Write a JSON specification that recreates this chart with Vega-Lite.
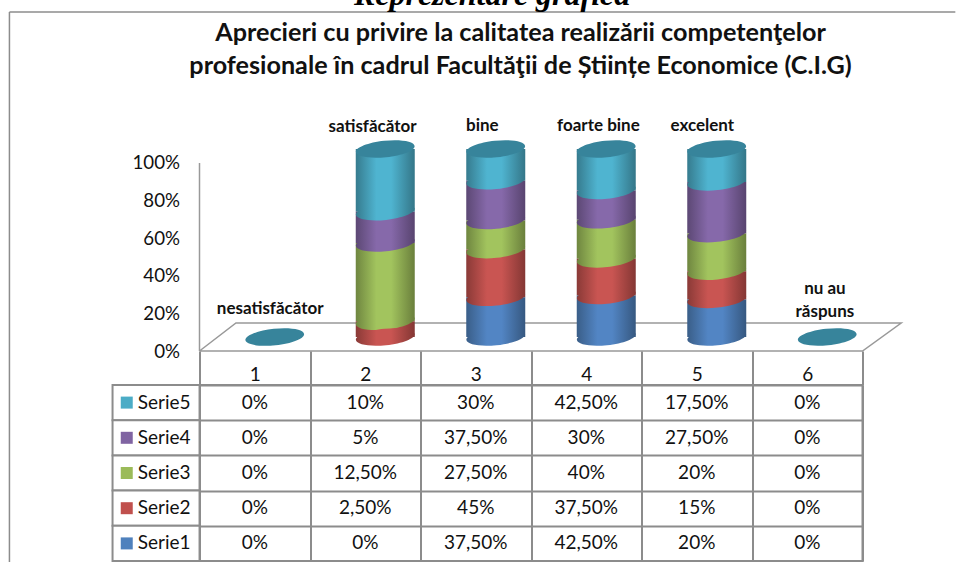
{
"$schema":"https://vega.github.io/schema/vega-lite/v6.json",
"padding":{"left":8.5,"top":0,"right":0,"bottom":0},
"background":"white",
"config":{"view":{"stroke":null},"font":"Lato"},
"datasets":{"d":[
{"cat":1,"serie":"Serie5","v":0,"label":"0%"},{"cat":2,"serie":"Serie5","v":10,"label":"10%"},{"cat":3,"serie":"Serie5","v":30,"label":"30%"},{"cat":4,"serie":"Serie5","v":42.5,"label":"42,50%"},{"cat":5,"serie":"Serie5","v":17.5,"label":"17,50%"},{"cat":6,"serie":"Serie5","v":0,"label":"0%"},
{"cat":1,"serie":"Serie4","v":0,"label":"0%"},{"cat":2,"serie":"Serie4","v":5,"label":"5%"},{"cat":3,"serie":"Serie4","v":37.5,"label":"37,50%"},{"cat":4,"serie":"Serie4","v":30,"label":"30%"},{"cat":5,"serie":"Serie4","v":27.5,"label":"27,50%"},{"cat":6,"serie":"Serie4","v":0,"label":"0%"},
{"cat":1,"serie":"Serie3","v":0,"label":"0%"},{"cat":2,"serie":"Serie3","v":12.5,"label":"12,50%"},{"cat":3,"serie":"Serie3","v":27.5,"label":"27,50%"},{"cat":4,"serie":"Serie3","v":40,"label":"40%"},{"cat":5,"serie":"Serie3","v":20,"label":"20%"},{"cat":6,"serie":"Serie3","v":0,"label":"0%"},
{"cat":1,"serie":"Serie2","v":0,"label":"0%"},{"cat":2,"serie":"Serie2","v":2.5,"label":"2,50%"},{"cat":3,"serie":"Serie2","v":45,"label":"45%"},{"cat":4,"serie":"Serie2","v":37.5,"label":"37,50%"},{"cat":5,"serie":"Serie2","v":15,"label":"15%"},{"cat":6,"serie":"Serie2","v":0,"label":"0%"},
{"cat":1,"serie":"Serie1","v":0,"label":"0%"},{"cat":2,"serie":"Serie1","v":0,"label":"0%"},{"cat":3,"serie":"Serie1","v":37.5,"label":"37,50%"},{"cat":4,"serie":"Serie1","v":42.5,"label":"42,50%"},{"cat":5,"serie":"Serie1","v":20,"label":"20%"},{"cat":6,"serie":"Serie1","v":0,"label":"0%"}
]},
"bounds":"flush",
"align":"all",
"spacing":34,
"vconcat":[
{"width":663,"height":351,
"layer":[
{"data":{"values":[{"a":-1.22,"b":1.803}]},"mark":{"type":"rule","color":"#8c8c8c","strokeWidth":1.5},"encoding":{"x":{"field":"a","type":"quantitative","scale":{"domain":[0.5,6.5],"nice":false,"zero":false,"padding":0},"axis":null},"y":{"field":"b","type":"quantitative","scale":{"domain":[0,1.867],"nice":false,"zero":false},"axis":{"values":[0,0.2,0.4,0.6,0.8,1],"format":".0%","domain":false,"ticks":false,"grid":false,"title":null,"labelFont":"Lato","labelFontSize":18.7,"labelColor":"#111","labelPadding":20}},"y2":{"datum":-1.122}}},
{"data":{"values":[{"a":-1.22,"b":1.803,"c":7.34}]},"mark":{"type":"rule","color":"#8c8c8c","strokeWidth":1.5},"encoding":{"x":{"field":"a","type":"quantitative"},"x2":{"field":"c"},"y":{"field":"b","type":"quantitative"}}},
{"data":{"values":[{"a":0.5,"y0":0,"y1":1}]},"mark":{"type":"rule","color":"#999999","strokeWidth":1.5},"encoding":{"x":{"field":"a","type":"quantitative"},"y":{"field":"y0","type":"quantitative"},"y2":{"field":"y1"}}},
{"data":{"values":[{"o":1,"a":0.5,"b":0},{"o":2,"a":0.83,"b":0.149},{"o":3,"a":6.85,"b":0.149},{"o":4,"a":6.5,"b":0},{"o":5,"a":0.5,"b":0}]},"mark":{"type":"line","color":"#999999","strokeWidth":1.5},"encoding":{"x":{"field":"a","type":"quantitative"},"y":{"field":"b","type":"quantitative"},"order":{"field":"o"}}},
{"data":{"name":"d"},"transform":[{"filter":"datum.v>0"},{"stack":"v","groupby":["cat"],"sort":[{"field":"serie","order":"ascending"}],"offset":"normalize","as":["y0","y1"]}],
"layer":[
{"mark":{"type":"bar","width":59,"xOffset":20,"yOffset":-14,"y2Offset":-14},"encoding":{"x":{"field":"cat","type":"quantitative"},"y":{"field":"y0","type":"quantitative"},"y2":{"field":"y1"},"color":{"condition":[
{"test":"datum.serie==='Serie1'","value":{"gradient":"linear","x1":0,"x2":1,"y1":0,"y2":0,"stops":[{"offset":0,"color":"#3a5e88"},{"offset":0.35,"color":"#5285c4"},{"offset":0.6,"color":"#5285c4"},{"offset":1,"color":"#365880"}]}},
{"test":"datum.serie==='Serie2'","value":{"gradient":"linear","x1":0,"x2":1,"y1":0,"y2":0,"stops":[{"offset":0,"color":"#8a3a37"},{"offset":0.35,"color":"#c95552"},{"offset":0.6,"color":"#c95552"},{"offset":1,"color":"#843734"}]}},
{"test":"datum.serie==='Serie3'","value":{"gradient":"linear","x1":0,"x2":1,"y1":0,"y2":0,"stops":[{"offset":0,"color":"#6f8640"},{"offset":0.35,"color":"#a2c45e"},{"offset":0.6,"color":"#a2c45e"},{"offset":1,"color":"#6a7f3c"}]}},
{"test":"datum.serie==='Serie4'","value":{"gradient":"linear","x1":0,"x2":1,"y1":0,"y2":0,"stops":[{"offset":0,"color":"#5c4874"},{"offset":0.35,"color":"#8669aa"},{"offset":0.6,"color":"#8669aa"},{"offset":1,"color":"#58446f"}]}}
],"value":{"gradient":"linear","x1":0,"x2":1,"y1":0,"y2":0,"stops":[{"offset":0,"color":"#367b8e"},{"offset":0.35,"color":"#4fb4d0"},{"offset":0.6,"color":"#4fb4d0"},{"offset":1,"color":"#347688"}]}}}},
{"mark":{"type":"point","filled":true,"opacity":1,"size":3481,"xOffset":20,"yOffset":-14,"shape":"M-0.995,0.105A1,0.28,-6,1,1,0.995,-0.105A1,0.28,-6,1,1,-0.995,0.105Z"},"encoding":{"x":{"field":"cat","type":"quantitative"},"y":{"field":"y0","type":"quantitative"},"color":{"condition":[
{"test":"datum.serie==='Serie1'","value":{"gradient":"linear","x1":0,"x2":1,"y1":0,"y2":0,"stops":[{"offset":0,"color":"#3a5e88"},{"offset":0.35,"color":"#5285c4"},{"offset":0.6,"color":"#5285c4"},{"offset":1,"color":"#365880"}]}},
{"test":"datum.serie==='Serie2'","value":{"gradient":"linear","x1":0,"x2":1,"y1":0,"y2":0,"stops":[{"offset":0,"color":"#8a3a37"},{"offset":0.35,"color":"#c95552"},{"offset":0.6,"color":"#c95552"},{"offset":1,"color":"#843734"}]}},
{"test":"datum.serie==='Serie3'","value":{"gradient":"linear","x1":0,"x2":1,"y1":0,"y2":0,"stops":[{"offset":0,"color":"#6f8640"},{"offset":0.35,"color":"#a2c45e"},{"offset":0.6,"color":"#a2c45e"},{"offset":1,"color":"#6a7f3c"}]}},
{"test":"datum.serie==='Serie4'","value":{"gradient":"linear","x1":0,"x2":1,"y1":0,"y2":0,"stops":[{"offset":0,"color":"#5c4874"},{"offset":0.35,"color":"#8669aa"},{"offset":0.6,"color":"#8669aa"},{"offset":1,"color":"#58446f"}]}}
],"value":{"gradient":"linear","x1":0,"x2":1,"y1":0,"y2":0,"stops":[{"offset":0,"color":"#367b8e"},{"offset":0.35,"color":"#4fb4d0"},{"offset":0.6,"color":"#4fb4d0"},{"offset":1,"color":"#347688"}]}}}}
]},
{"data":{"values":[{"cat":1,"top":0},{"cat":2,"top":1},{"cat":3,"top":1},{"cat":4,"top":1},{"cat":5,"top":1},{"cat":6,"top":0}]},"mark":{"type":"point","filled":true,"opacity":1,"size":3481,"color":"#37849b","xOffset":20,"yOffset":-14,"shape":"M-0.995,0.105A1,0.28,-6,1,1,0.995,-0.105A1,0.28,-6,1,1,-0.995,0.105Z"},"encoding":{"x":{"field":"cat","type":"quantitative"},"y":{"field":"top","type":"quantitative"}}},
{"data":{"values":[{"t":"nesatisfăcător","a":1.14,"b":0.223},{"t":"satisfăcător","a":2.066,"b":1.19},{"t":"bine","a":3.06,"b":1.195},{"t":"foarte bine","a":4.11,"b":1.195},{"t":"excelent","a":5.05,"b":1.195},{"t":"nu au\nrăspuns","a":6.16,"b":0.33}]},"mark":{"type":"text","font":"Lato","fontWeight":"bold","fontSize":17,"color":"#111","lineBreak":"\n","lineHeight":23,"baseline":"middle"},"encoding":{"x":{"field":"a","type":"quantitative"},"y":{"field":"b","type":"quantitative"},"text":{"field":"t"}}},
{"data":{"values":[{"t":"Aprecieri cu privire la calitatea realizării competenţelor\nprofesionale în cadrul Facultăţii de Științe Economice (C.I.G)","a":3.405,"b":1.691}]},"mark":{"type":"text","font":"Lato","fontWeight":"bold","fontSize":25.2,"color":"#111","lineBreak":"\n","lineHeight":33,"baseline":"middle"},"encoding":{"x":{"field":"a","type":"quantitative"},"y":{"field":"b","type":"quantitative"},"text":{"field":"t"}}},
{"data":{"values":[{"t":"Reprezentare grafică","a":3.148,"b":1.84}]},"mark":{"type":"text","clip":true,"font":"Liberation Serif","fontWeight":"bold","fontStyle":"italic","fontSize":32,"color":"#000","baseline":"alphabetic"},"encoding":{"x":{"field":"a","type":"quantitative"},"y":{"field":"b","type":"quantitative"},"text":{"field":"t"}}}
]},
{"width":663,"height":176,
"view":{"stroke":"#8c8c8c","strokeWidth":2},
"data":{"name":"d"},
"encoding":{
"x":{"field":"cat","type":"ordinal","scale":{"type":"band","paddingInner":0,"paddingOuter":0},"axis":{"orient":"top","title":null,"labelAngle":0,"tickBand":"extent","tickSize":34,"tickColor":"#8c8c8c","tickWidth":2,"domain":false,"grid":true,"gridColor":"#8c8c8c","gridWidth":2,"labelPadding":-29,"labelFont":"Lato","labelFontSize":19,"labelColor":"#111","labelBaseline":"alphabetic"}},
"y":{"field":"serie","type":"nominal","sort":["Serie5","Serie4","Serie3","Serie2","Serie1"],"scale":{"type":"band","paddingInner":0,"paddingOuter":0},"axis":{"title":null,"labels":false,"ticks":false,"domain":false,"grid":true,"tickBand":"extent","gridColor":"#8c8c8c","gridWidth":2}}
},
"layer":[
{"transform":[{"filter":"datum.cat==1"}],"mark":{"type":"bar","width":87,"xOffset":-98.7,"fill":"white","stroke":"#8c8c8c","strokeWidth":2},"encoding":{}},
{"transform":[{"filter":"datum.cat==1"}],"mark":{"type":"point","shape":"square","filled":true,"opacity":1,"size":144,"xOffset":-128},"encoding":{"color":{"field":"serie","type":"nominal","legend":null,"scale":{"domain":["Serie1","Serie2","Serie3","Serie4","Serie5"],"range":["#4f81bd","#c0504d","#9bbb59","#8064a2","#4bacc6"]}}}},
{"transform":[{"filter":"datum.cat==1"}],"mark":{"type":"text","align":"left","dx":-117,"font":"Lato","fontSize":19,"color":"#111"},"encoding":{"text":{"field":"serie"}}},
{"mark":{"type":"text","font":"Lato","fontSize":19,"color":"#111"},"encoding":{"text":{"field":"label"}}}
]}
]}
